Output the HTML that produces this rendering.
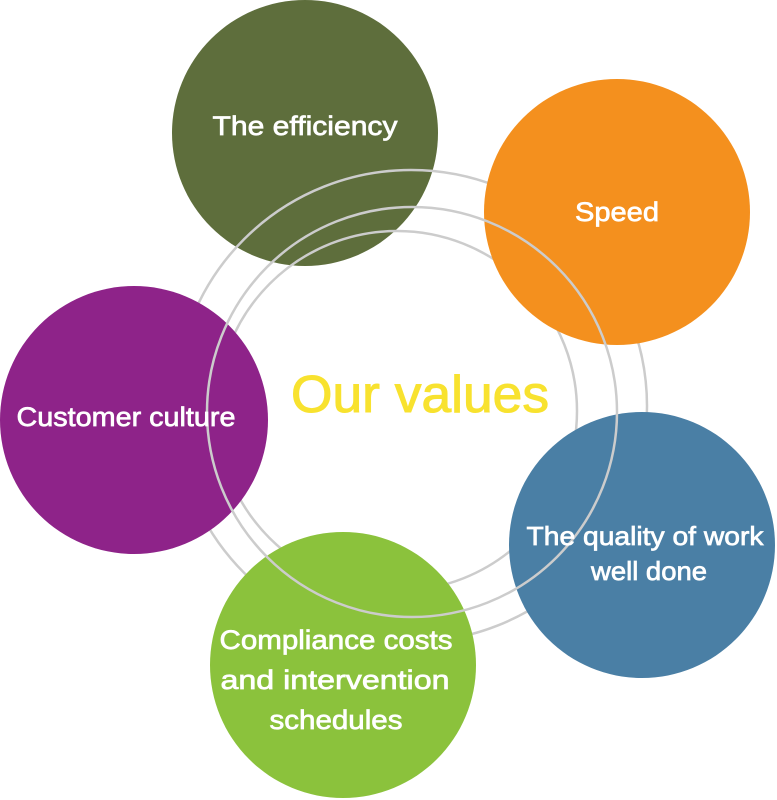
<!DOCTYPE html>
<html><head><meta charset="utf-8"><style>
html,body{margin:0;padding:0;background:#fff;}
svg{display:block;}
text{font-family:"Liberation Sans",sans-serif;fill:#fff;text-anchor:middle;stroke:#fff;stroke-width:0.7;}
</style></head><body>
<svg width="777" height="800" viewBox="0 0 777 800">
<circle cx="305" cy="133" r="133" fill="#5e6e3c"/>
<circle cx="411" cy="406" r="236" fill="none" stroke="#cccccc" stroke-width="2.5"/>
<circle cx="397" cy="411" r="180" fill="none" stroke="#cccccc" stroke-width="2.5"/>
<circle cx="617" cy="212" r="133" fill="#f4901e"/>
<circle cx="134" cy="420" r="134" fill="#8e2389"/>
<circle cx="642" cy="545" r="133" fill="#4a7fa5"/>
<circle cx="343" cy="665" r="133" fill="#8bc23c"/>
<circle cx="412" cy="412" r="205" fill="none" stroke="#cccccc" stroke-width="2.5"/>
<text x="305" y="135" font-size="27" textLength="185" lengthAdjust="spacingAndGlyphs">The efficiency</text>
<text x="617" y="221" font-size="27" textLength="84" lengthAdjust="spacingAndGlyphs">Speed</text>
<text x="126" y="426" font-size="27" textLength="219" lengthAdjust="spacingAndGlyphs">Customer culture</text>
<text x="645" y="545" font-size="26" textLength="237" lengthAdjust="spacingAndGlyphs">The quality of work</text>
<text x="649" y="580" font-size="26" textLength="116" lengthAdjust="spacingAndGlyphs">well done</text>
<text x="336" y="649" font-size="27" textLength="233" lengthAdjust="spacingAndGlyphs">Compliance costs</text>
<text x="335" y="689" font-size="27" textLength="229" lengthAdjust="spacingAndGlyphs">and intervention</text>
<text x="336" y="729" font-size="27" textLength="133" lengthAdjust="spacingAndGlyphs">schedules</text>
<text x="420" y="412" font-size="52" textLength="258" lengthAdjust="spacingAndGlyphs" style="fill:#f8e22f;stroke:#f8e22f;stroke-width:1">Our values</text>
</svg>
</body></html>
